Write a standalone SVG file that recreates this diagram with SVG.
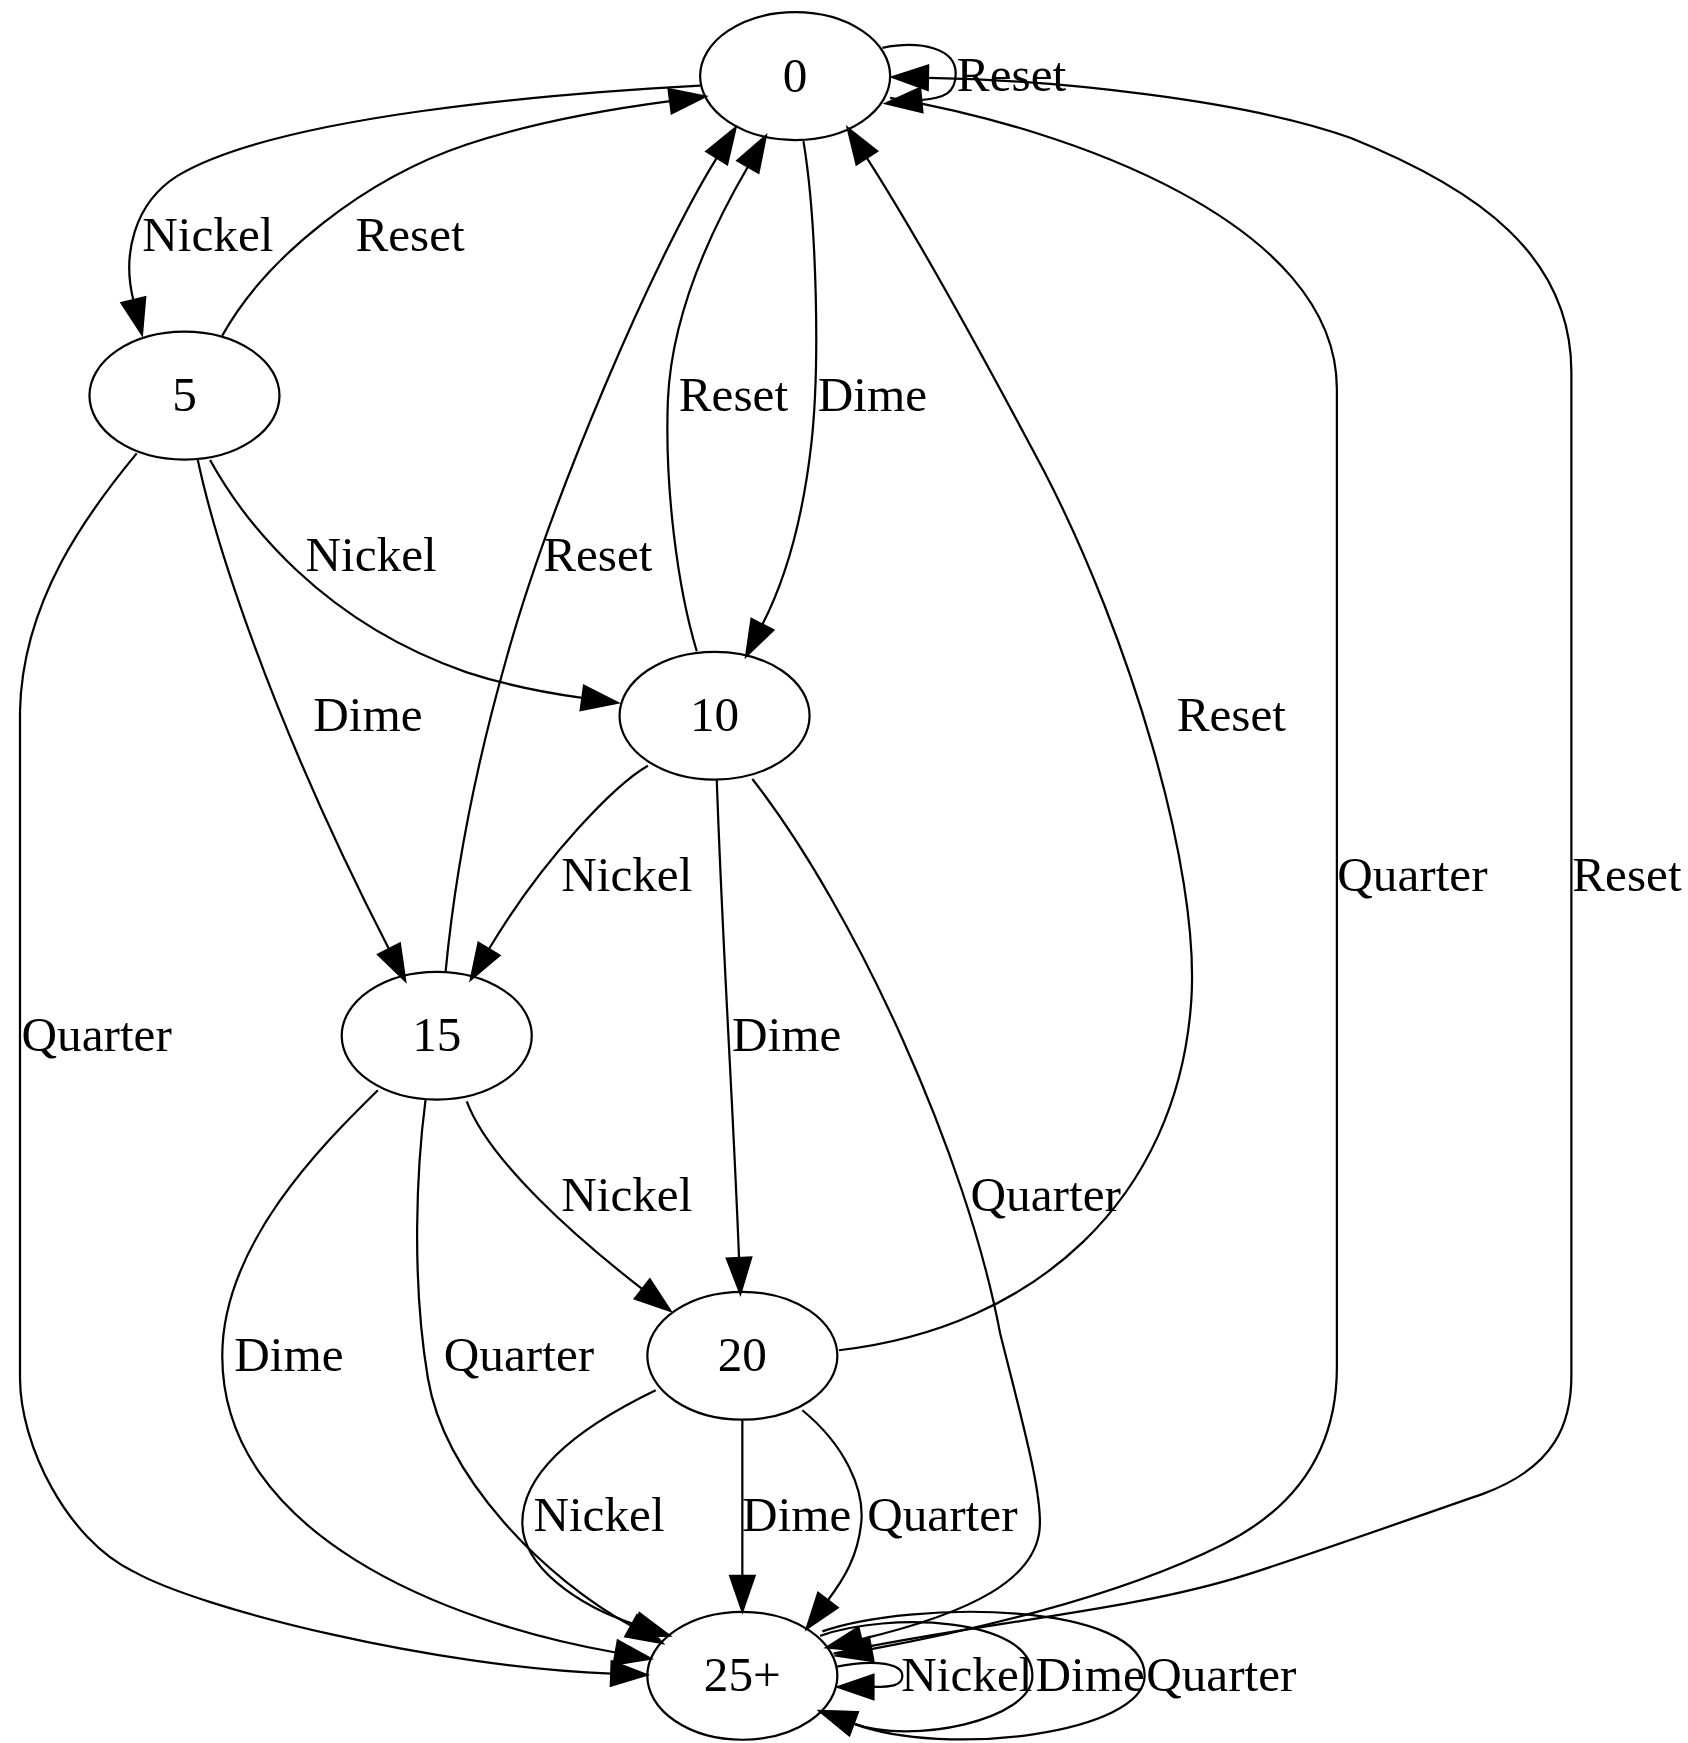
<svg xmlns="http://www.w3.org/2000/svg" width="1688" height="1743" viewBox="0 0 1688 1743">
  <defs>
    <style>
      .node ellipse { fill: none; stroke: #000; stroke-width: 2; }
      .edge path { fill: none; stroke: #000; stroke-width: 2; marker-end: url(#arrow); }
      text { font-family: "Liberation Serif", "Times New Roman", serif; font-size: 44.3px; fill: #000; }
      .node text { text-anchor: middle; }
      .lbl { text-anchor: middle; }
      .lbl-s { text-anchor: start; }
    </style>
    <marker id="arrow" viewBox="0 0 32 22" markerWidth="32" markerHeight="22" refX="0" refY="11" orient="auto" markerUnits="userSpaceOnUse" overflow="visible">
      <polygon points="0,0 32,11 0,22" fill="#000" stroke="#000" stroke-width="2"/>
    </marker>
  </defs>
  <rect x="0" y="0" width="1688" height="1743" fill="#fff"/>

  <g transform="scale(1.1113)">
    <!-- connectors -->
    <g id="edges">
      <!-- 0 -> 0 Reset -->
      <g class="edge" id="e-0-0-reset">
        <path d="M794,43 C830,36 860,44 860,66 C860,84 850,88 829,90"/>
        <text class="lbl-s" x="861" y="82">Reset</text>
      </g>
      <!-- 0 -> 5 Nickel -->
      <g class="edge" id="e-0-5-nickel">
        <path d="M630,77 C500,84 250,104 160,158 C120,183 110,230 120,270"/>
        <text class="lbl" x="187" y="226">Nickel</text>
      </g>
      <!-- 5 -> 0 Reset -->
      <g class="edge" id="e-5-0-reset">
        <path d="M200,302 C240,230 330,160 420,130 C480,110 550,98 603,91"/>
        <text class="lbl" x="369" y="226">Reset</text>
      </g>
      <!-- 0 -> 10 Dime -->
      <g class="edge" id="e-0-10-dime">
        <path d="M723,127 C735,200 738,330 730,400 C722,470 705,525 686,562"/>
        <text class="lbl" x="785" y="370">Dime</text>
      </g>
      <!-- 10 -> 0 Reset -->
      <g class="edge" id="e-10-0-reset">
        <path d="M627,586 C610,530 598,440 601,360 C604,290 635,215 673,150"/>
        <text class="lbl" x="660" y="370">Reset</text>
      </g>
      <!-- 15 -> 0 Reset -->
      <g class="edge" id="e-15-0-reset">
        <path d="M401,874 C410,780 428,690 455,595 C495,450 590,230 645,142"/>
        <text class="lbl" x="538" y="514">Reset</text>
      </g>
      <!-- 5 -> 10 Nickel -->
      <g class="edge" id="e-5-10-nickel">
        <path d="M189,414 C220,470 290,560 420,605 C460,618 495,624 524,628"/>
        <text class="lbl" x="334" y="514">Nickel</text>
      </g>
      <!-- 5 -> 15 Dime -->
      <g class="edge" id="e-5-15-dime">
        <path d="M178,414 C192,480 240,640 350,854"/>
        <text class="lbl" x="331" y="658">Dime</text>
      </g>
      <!-- 20 -> 0 Reset -->
      <g class="edge" id="e-20-0-reset">
        <path d="M755,1215 C930,1195 1060,1080 1072,900 C1080,780 1015,570 940,425 C895,340 830,220 780,142"/>
        <text class="lbl" x="1108" y="658">Reset</text>
      </g>
      <!-- 10 -> 15 Nickel -->
      <g class="edge" id="e-10-15-nickel">
        <path d="M583,689 C555,705 490,770 440,854"/>
        <text class="lbl" x="564" y="802">Nickel</text>
      </g>
      <!-- 0 -> 25+ Quarter -->
      <g class="edge" id="e-0-25-quarter">
        <path d="M801,88 C960,115 1203,200 1203,350 L1203,1230 C1203,1300 1170,1355 1100,1390 C1000,1440 860,1470 784,1484"/>
        <text class="lbl" x="1271" y="802">Quarter</text>
      </g>
      <!-- 25+ -> 0 Reset -->
      <g class="edge" id="e-25-0-reset">
        <path d="M750,1488 C880,1460 1020,1450 1125,1416 C1190,1395 1260,1370 1335,1344 C1400,1320 1414,1280 1414,1238 L1414,335 C1414,230 1330,170 1215,124 C1120,90 950,72 835,70"/>
        <text class="lbl" x="1464" y="802">Reset</text>
      </g>
      <!-- 5 -> 25+ Quarter -->
      <g class="edge" id="e-5-25-quarter">
        <path d="M123,408 C80,460 20,540 18,640 L18,1240 C18,1300 60,1385 120,1414 C180,1448 390,1500 550,1506"/>
        <text class="lbl" x="87" y="946">Quarter</text>
      </g>
      <!-- 10 -> 20 Dime -->
      <g class="edge" id="e-10-20-dime">
        <path d="M645,702 C650,850 660,1000 665,1132"/>
        <text class="lbl" x="708" y="946">Dime</text>
      </g>
      <!-- 15 -> 20 Nickel -->
      <g class="edge" id="e-15-20-nickel">
        <path d="M420,991 C440,1045 520,1115 578,1160"/>
        <text class="lbl" x="564" y="1090">Nickel</text>
      </g>
      <!-- 10 -> 25+ Quarter -->
      <g class="edge" id="e-10-25-quarter">
        <path d="M677,701 C770,820 870,1040 900,1200 C920,1280 940,1350 935,1380 C928,1420 880,1450 775,1475"/>
        <text class="lbl" x="941" y="1090">Quarter</text>
      </g>
      <!-- 15 -> 25+ Dime -->
      <g class="edge" id="e-15-25-dime">
        <path d="M340,981 C290,1030 200,1120 200,1220 C200,1380 400,1460 554,1487"/>
        <text class="lbl" x="260" y="1234">Dime</text>
      </g>
      <!-- 15 -> 25+ Quarter -->
      <g class="edge" id="e-15-25-quarter">
        <path d="M383,989 C375,1050 370,1150 385,1240 C400,1330 490,1420 568,1463"/>
        <text class="lbl" x="467" y="1234">Quarter</text>
      </g>
      <!-- 20 -> 25+ Nickel -->
      <g class="edge" id="e-20-25-nickel">
        <path d="M590,1251 C530,1280 470,1320 470,1370 C470,1410 520,1445 572,1462"/>
        <text class="lbl" x="539" y="1378">Nickel</text>
      </g>
      <!-- 20 -> 25+ Dime -->
      <g class="edge" id="e-20-25-dime">
        <path d="M668,1278 L668,1418"/>
        <text class="lbl" x="717" y="1378">Dime</text>
      </g>
      <!-- 20 -> 25+ Quarter -->
      <g class="edge" id="e-20-25-quarter">
        <path d="M722,1269 C760,1300 778,1340 775,1370 C772,1400 760,1420 745,1440"/>
        <text class="lbl" x="848" y="1378">Quarter</text>
      </g>
      <!-- 25+ -> 25+ Nickel -->
      <g class="edge" id="e-25-25-nickel">
        <path d="M752,1500 C790,1492 812,1498 812,1508 C812,1517 802,1518 786,1518"/>
        <text class="lbl" x="870" y="1522">Nickel</text>
      </g>
      <!-- 25+ -> 25+ Dime -->
      <g class="edge" id="e-25-25-dime">
        <path d="M738,1472 C800,1450 929,1455 929,1508 C929,1548 820,1570 768,1551"/>
        <text class="lbl" x="981" y="1522">Dime</text>
      </g>
      <!-- 25+ -> 25+ Quarter -->
      <g class="edge" id="e-25-25-quarter">
        <path d="M740,1468 C820,1440 1030,1440 1030,1508 C1030,1560 850,1582 768,1551"/>
        <text class="lbl" x="1099" y="1522">Quarter</text>
      </g>
    </g>

    <!-- states -->
    <g id="node-0" class="node">
      <ellipse cx="715.5" cy="68.5" rx="85.5" ry="57.5"/>
      <text x="715.5" y="83">0</text>
    </g>
    <g id="node-5" class="node">
      <ellipse cx="166" cy="356" rx="85.5" ry="57.5"/>
      <text x="166" y="370">5</text>
    </g>
    <g id="node-10" class="node">
      <ellipse cx="643" cy="644" rx="85.5" ry="57.5"/>
      <text x="643" y="658">10</text>
    </g>
    <g id="node-15" class="node">
      <ellipse cx="393" cy="932" rx="85.5" ry="57.5"/>
      <text x="393" y="946">15</text>
    </g>
    <g id="node-20" class="node">
      <ellipse cx="668" cy="1220" rx="85.5" ry="57.5"/>
      <text x="668" y="1234">20</text>
    </g>
    <g id="node-25" class="node">
      <ellipse cx="668" cy="1508" rx="85.5" ry="57.5"/>
      <text x="668" y="1522">25+</text>
    </g>
  </g>
</svg>
